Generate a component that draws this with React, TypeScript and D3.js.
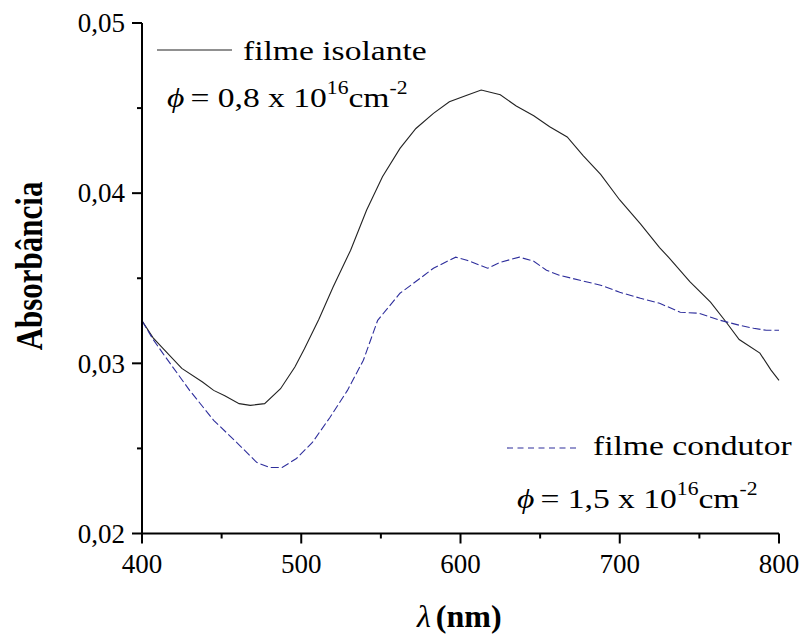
import React from "react";
import * as d3 from "d3";

const wavelengthIsolante = [400, 407, 413, 425, 438, 445, 452, 461, 468, 477, 487, 496, 502, 511, 520, 531, 541, 551, 562, 572, 583, 593, 604, 613, 625, 635, 646, 656, 667, 677, 688, 700, 713, 725, 731, 744, 757, 767, 775, 788, 795, 800];
const absorbIsolante = [0.0325, 0.0315, 0.0309, 0.0297, 0.0289, 0.02841, 0.0281, 0.02763, 0.02753, 0.02763, 0.02851, 0.02978, 0.03086, 0.03258, 0.03449, 0.03665, 0.0390, 0.04096, 0.04263, 0.0438, 0.04469, 0.04537, 0.04576, 0.04606, 0.04578, 0.04512, 0.04455, 0.0439, 0.0433, 0.0422, 0.0411, 0.0396, 0.0382, 0.0368, 0.0362, 0.0348, 0.0336, 0.0324, 0.0314, 0.0306, 0.0296, 0.0290];

const wavelengthCondutor = [400, 407, 413, 430, 445, 460, 472, 480, 488, 497, 507, 518, 529, 539, 548, 562, 573, 583, 597, 604, 617, 625, 637, 646, 654, 662, 675, 688, 700, 713, 725, 738, 750, 763, 775, 784, 792, 800];
const absorbCondutor = [0.0325, 0.0314, 0.0306, 0.0284, 0.02665, 0.0253, 0.02418, 0.02388, 0.02388, 0.02441, 0.02535, 0.02682, 0.02841, 0.03018, 0.03253, 0.03412, 0.03488, 0.03559, 0.03624, 0.03606, 0.03559, 0.03594, 0.03624, 0.03600, 0.03547, 0.03518, 0.03488, 0.03459, 0.03418, 0.03382, 0.03353, 0.0330, 0.03294, 0.03253, 0.03224, 0.03206, 0.03194, 0.03194];

const xMajorTicks = [400, 500, 600, 700, 800];
const xMinorTicks = [450, 550, 650, 750];
const yMajorTicks = [0.02, 0.03, 0.04, 0.05];
const yMinorTicks = [0.025, 0.035, 0.045];
const yTickLabels = ["0,02", "0,03", "0,04", "0,05"];

const BLUE = "#2e2e9c";
const TF = { fontFamily: "Liberation Serif" } as const;

export default function App() {
  const x = d3.scaleLinear().domain([400, 800]).range([142, 779]);
  const y = d3.scaleLinear().domain([0.02, 0.05]).range([533.5, 23]);

  const line = d3.line<[number, number]>().x((d) => x(d[0])).y((d) => y(d[1]));
  const isoPath = line(wavelengthIsolante.map((w, i) => [w, absorbIsolante[i]]) as [number, number][]);
  const conPath = line(wavelengthCondutor.map((w, i) => [w, absorbCondutor[i]]) as [number, number][]);

  const x0 = x(400);
  const yBase = y(0.02);

  return (
    <svg width={804} height={634} style={{ position: "absolute", left: 0, top: 0, background: "#fff", fontFamily: "Liberation Serif" }}>
      <rect width={804} height={634} fill="#fff" />
      {/* curves */}
      <path d={isoPath || ""} fill="none" stroke="#222" strokeWidth={1.1} />
      <path d={conPath || ""} fill="none" stroke={BLUE} strokeWidth={1.1} strokeDasharray="8,3" />

      {/* axes */}
      <line x1={x0} x2={x0} y1={y(0.05)} y2={yBase + 1} stroke="#000" strokeWidth={2} />
      <line x1={x0 - 1} x2={x(800)} y1={yBase} y2={yBase} stroke="#000" strokeWidth={2} />
      {xMajorTicks.map((t) => (
        <g key={"xm" + t}>
          <line x1={x(t)} x2={x(t)} y1={yBase} y2={yBase + 10} stroke="#000" strokeWidth={2} />
          <text x={x(t)} y={yBase + 39} textAnchor="middle" fontSize={27} style={TF}>{t}</text>
        </g>
      ))}
      {xMinorTicks.map((t) => (
        <line key={"xn" + t} x1={x(t)} x2={x(t)} y1={yBase} y2={yBase + 5} stroke="#000" strokeWidth={2} />
      ))}
      {yMajorTicks.map((t, i) => (
        <g key={"ym" + t}>
          <line x1={x0 - 10} x2={x0} y1={y(t)} y2={y(t)} stroke="#000" strokeWidth={2} />
          <text x={125} y={y(t)} dy="0.34em" textAnchor="end" fontSize={27} style={TF}>{yTickLabels[i]}</text>
        </g>
      ))}
      {yMinorTicks.map((t) => (
        <line key={"yn" + t} x1={x0 - 5} x2={x0} y1={y(t)} y2={y(t)} stroke="#000" strokeWidth={2} />
      ))}

      {/* axis titles */}
      <text transform="translate(42,266) scale(1.25,1) rotate(-90)" textAnchor="middle" fontSize={31} fontWeight="bold" style={TF}>Absorbância</text>
      <text x={417} y={627} fontSize={32} style={TF}>
        <tspan fontStyle="italic">λ</tspan>
        <tspan fontWeight="bold" dx={5}>(nm)</tspan>
      </text>

      {/* legend 1 */}
      <line x1={157} x2={232} y1={50} y2={50} stroke="#222" strokeWidth={1.1} />
      <g transform="translate(243,60) scale(1.2,1)">
        <text x={0} y={0} fontSize={28} style={TF}>filme isolante</text>
      </g>
      <g transform="translate(167,107) scale(1.2,1)">
        <text x={0} y={0} fontSize={28} style={TF}>
          <tspan fontStyle="italic">ϕ</tspan>
          <tspan dx={5}>= 0,8 x 10</tspan>
          <tspan dy={-13} fontSize={18}>16</tspan>
          <tspan dy={13}>cm</tspan>
          <tspan dy={-13} fontSize={18}>-2</tspan>
        </text>
      </g>

      {/* legend 2 */}
      <line x1={507} x2={580} y1={448} y2={448} stroke={BLUE} strokeWidth={1.1} strokeDasharray="6,4.5" />
      <g transform="translate(593,455) scale(1.2,1)">
        <text x={0} y={0} fontSize={28} style={TF}>filme condutor</text>
      </g>
      <g transform="translate(517,508) scale(1.2,1)">
        <text x={0} y={0} fontSize={28} style={TF}>
          <tspan fontStyle="italic">ϕ</tspan>
          <tspan dx={5}>= 1,5 x 10</tspan>
          <tspan dy={-13} fontSize={18}>16</tspan>
          <tspan dy={13}>cm</tspan>
          <tspan dy={-13} fontSize={18}>-2</tspan>
        </text>
      </g>
    </svg>
  );
}
